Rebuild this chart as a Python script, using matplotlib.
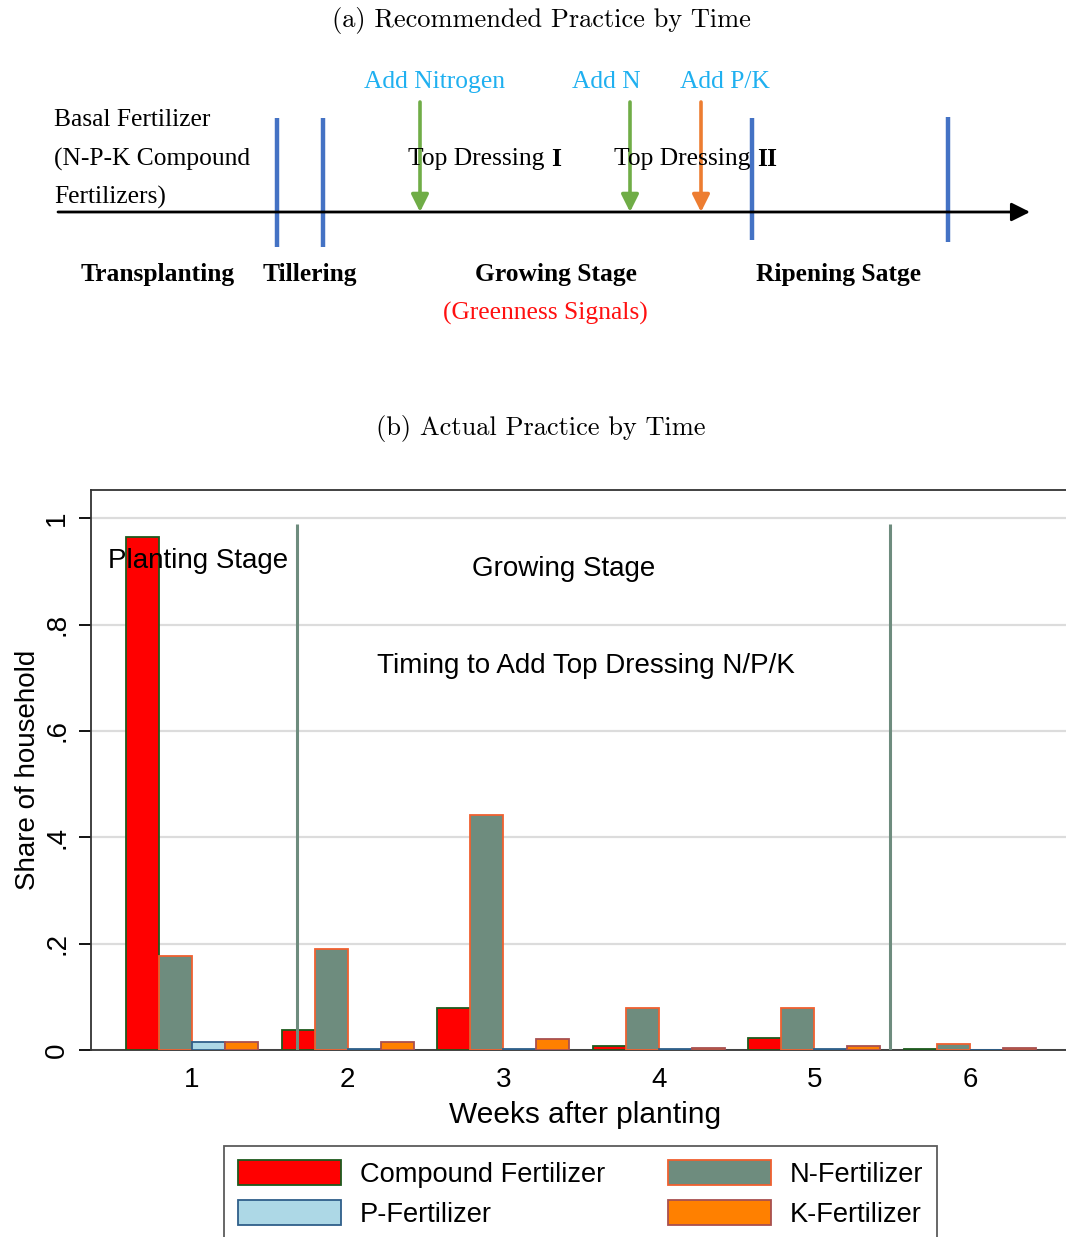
import numpy as np
import matplotlib
matplotlib.use("Agg")
import matplotlib.pyplot as plt
from matplotlib.patches import Patch

# bar data: share of households applying each fertilizer, by week after planting
weeks = [1, 2, 3, 4, 5, 6]
compound = [0.964, 0.038, 0.079, 0.007, 0.023, 0.002]
n_fert = [0.177, 0.190, 0.442, 0.079, 0.079, 0.011]
p_fert = [0.015, 0.002, 0.002, 0.002, 0.002, 0.000]
k_fert = [0.015, 0.015, 0.021, 0.004, 0.007, 0.003]
series_names = ["Compound Fertilizer", "N-Fertilizer", "P-Fertilizer", "K-Fertilizer"]
stage_breaks = [1.675, 5.486]
yticks = [0, 0.2, 0.4, 0.6, 0.8, 1.0]
ytick_labels = ["0", ".2", ".4", ".6", ".8", "1"]

face = ["#ff0000", "#6e8c7e", "#add8e6", "#ff8000"]
edge = ["#1e5a1e", "#f06030", "#2f5f8a", "#a85050"]

W, H = 1066, 1237
fig = plt.figure(figsize=(W / 100, H / 100), dpi=100)

# ---------------- (a) diagram, drawn in pixel coords ----------------
dg = fig.add_axes([0, 0, 1, 1])
dg.set_xlim(0, W)
dg.set_ylim(H, 0)
dg.axis("off")

serif = "Liberation Serif"
dg.text(541, 20, "(a) Recommended Practice by Time", family="cmr10", fontsize=19,
        ha="center", va="center")
dg.text(541, 429, "(b) Actual Practice by Time", family="cmr10", fontsize=19,
        ha="center", va="center")

# timeline
dg.annotate("", xy=(1030, 212), xytext=(58, 212),
            arrowprops=dict(arrowstyle="-|>", color="black", lw=2,
                            mutation_scale=28, shrinkA=0, shrinkB=0))

# stage boundaries
blue = "#4472c4"
for x, y0, y1 in [(277, 118, 247), (323, 118, 247), (752, 118, 240), (948, 117, 242)]:
    dg.plot([x, x], [y0, y1], color=blue, lw=3.2, solid_capstyle="butt")

# top-dressing arrows
for x, c in [(420, "#70ad47"), (630, "#70ad47"), (701, "#ed7d31")]:
    dg.annotate("", xy=(x, 212), xytext=(x, 102),
                arrowprops=dict(arrowstyle="-|>", color=c, lw=2.6,
                                mutation_scale=26, shrinkA=0, shrinkB=0))

cyan = "#1fb0f0"
fs = 18.4
dg.text(435, 82, "Add Nitrogen", family=serif, fontsize=fs, color=cyan, ha="center", va="center")
dg.text(606, 82, "Add N", family=serif, fontsize=fs, color=cyan, ha="center", va="center")
dg.text(725, 82, "Add P/K", family=serif, fontsize=fs, color=cyan, ha="center", va="center")

for y, s in [(120, "Basal Fertilizer"), (159, "(N-P-K Compound"), (197, "Fertilizers)")]:
    dg.text(54, y, s, family=serif, fontsize=fs, ha="left", va="center")

dg.text(408, 159, "Top Dressing", family=serif, fontsize=fs, ha="left", va="center")
dg.text(551, 159, "I", family=serif, fontsize=fs, weight="bold", ha="left", va="center")
dg.text(614, 159, "Top Dressing", family=serif, fontsize=fs, ha="left", va="center")
dg.text(757, 159, "II", family=serif, fontsize=fs, weight="bold", ha="left", va="center")

for x, s in [(158, "Transplanting"), (310, "Tillering"), (556, "Growing Stage"), (838, "Ripening Satge")]:
    dg.text(x, 275, s, family=serif, fontsize=fs, weight="bold", ha="center", va="center")
dg.text(545, 313, "(Greenness Signals)", family=serif, fontsize=fs, color="#ff1010",
        ha="center", va="center")

# ---------------- (b) bar chart ----------------
sans = "Liberation Sans"
ax = fig.add_axes([91 / W, 1 - 1050 / H, (1080 - 91) / W, (1050 - 490) / H])
ax.set_xlim(1 - 101 / 155.6, 6 + 110 / 155.6)
ax.set_ylim(0, 1.053)

x = np.array(weeks, dtype=float)
bw = 0.212
offsets = [-1.5 * bw, -0.5 * bw, 0.5 * bw, 1.5 * bw]
for vals, off, fc, ec in zip([compound, n_fert, p_fert, k_fert], offsets, face, edge):
    ax.bar(x + off, vals, width=bw, color=fc, edgecolor=ec, linewidth=1.3, zorder=3)

ax.vlines(stage_breaks, 0, 0.99, color="#6e8c7e", lw=2.2, zorder=4)

ax.set_yticks(yticks)
ax.set_yticklabels(ytick_labels, rotation=90, va="center", family=sans, fontsize=20)
ax.set_xticks(weeks)
ax.set_xticklabels([str(w) for w in weeks], family=sans, fontsize=20)
ax.tick_params(axis="y", length=9, width=1.3, pad=6)
ax.tick_params(axis="x", length=0, pad=12)
ax.grid(axis="y", color="#dcdcdc", lw=1.6, zorder=0)
ax.set_axisbelow(True)
for sp in ax.spines.values():
    sp.set_linewidth(1.3)
    sp.set_color("#333333")

ax.set_xlabel("Weeks after planting", family=sans, fontsize=21.5, labelpad=6)
ax.set_ylabel("Share of household", family=sans, fontsize=20, labelpad=2)

ax.text(1 - 84 / 155.6, 0.92, "Planting Stage", family=sans, fontsize=20, ha="left", va="center", zorder=5)
ax.text(3.39, 0.905, "Growing Stage", family=sans, fontsize=20, ha="center", va="center", zorder=5)
ax.text(3.53, 0.722, "Timing to Add Top Dressing N/P/K", family=sans, fontsize=20,
        ha="center", va="center", zorder=5)

handles = [Patch(facecolor=face[i], edgecolor=edge[i], linewidth=1.3, label=series_names[i])
           for i in [0, 2, 1, 3]]
leg = ax.legend(handles=handles, ncol=2, loc="upper center",
                bbox_to_anchor=(580.5 / W, 1 - 1146 / H), bbox_transform=fig.transFigure,
                prop=dict(family=sans, size=19.6), frameon=True, fancybox=False,
                handlelength=3.8, handleheight=1.05, handletextpad=0.68,
                columnspacing=2.3, labelspacing=0.45, borderpad=0.5, borderaxespad=0)
leg.get_frame().set_edgecolor("#333333")
leg.get_frame().set_linewidth(1.3)

fig.savefig("out.png", dpi=100)
